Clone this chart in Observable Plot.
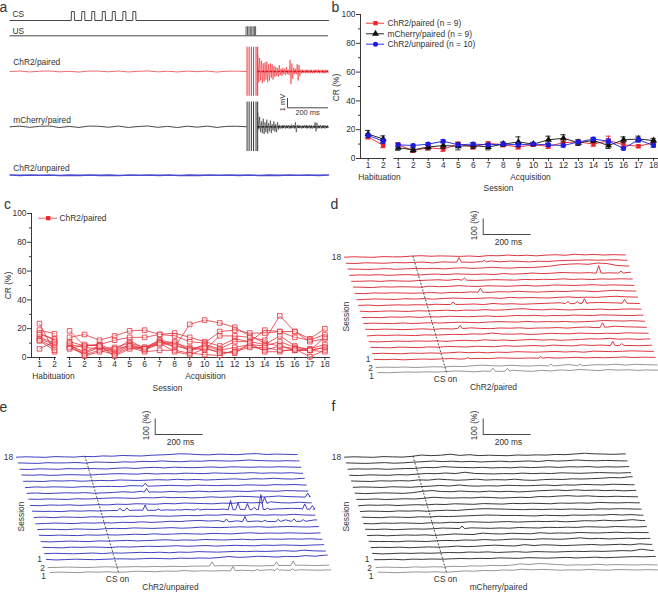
<!DOCTYPE html>
<html><head><meta charset="utf-8">
<style>html,body{margin:0;padding:0;background:#fff}#page{position:relative;width:658px;height:592px;overflow:hidden}#page svg{position:absolute;overflow:visible;background:transparent}</style>
<script src="https://cdn.jsdelivr.net/npm/d3@7"></script>
<script src="https://cdn.jsdelivr.net/npm/@observablehq/plot@0.6"></script>
</head><body><div id="page"></div>
<script>
// ---------- panel b ----------
const sessionLabels=[1,2,1,2,3,4,5,6,7,8,9,10,11,12,13,14,15,16,17,18];
const redMean=[15,9,9.5,5.5,7.5,6.5,10,8,10.5,9.5,8,9.5,8.5,11,11.5,10,12.5,9.5,8.5,11];
const redErr=[1.5,1.5,1.5,1.2,1.5,1.5,1.5,1.5,1,1.5,1.5,1,1.5,2,1.5,1.5,3,2,1,1.5];
const blackMean=[17,13.5,7.5,6,8,9,8.5,9,8,10,11.5,10,13,14,11,12.5,9,13,13.5,12.5];
const blackErr=[2.5,2.2,1.8,1.5,2,2,2.5,2,2,1.5,3.5,1.2,2.5,2.5,2,1.5,2,2,2,1.5];
const blueMean=[16,12,9.5,9,10,12,9.5,10,9.5,10,9.5,10,9.5,9,11.5,13.5,12,7,13,9];
const blueErr=[1.2,1.5,1,1,1,1,1,1,1,1,1.2,1,1.2,1,1.2,1.2,1.5,1,1.5,1.2];
const legendB=["ChR2/paired (n = 9)","mCherry/paired (n = 9)","ChR2/unpaired (n = 10)"];
// ---------- panel c ----------
const animalsC=[
[23.5,4,18.5,8,9,5,12,6,12,7,23,26,24,21,15,10,8,5,5,7],
[19,16.5,14,16,12,15,18.5,19,16,17,14,11,8,13,11,19,18,18,13,20],
[17,12,11,8,9,12,14,14,16,15,11,10,18,19,17,17,18,14,12,16],
[14,10,9,7,6,7,10,7,12,10,7,5,15,15,14,12,29,18,11,13],
[13,9,8,4,8,4,9,6,11,9,5,9,6,11,11,9,15,8,5,14],
[12,7,7,3,7,3,8,5,10,8,6,8,5,7,9,8,11,7,6,9],
[11.5,5,7,2,5,2,7,4,5,5,3,2,1.5,5,8,5,8,6,5,7],
[16,13,6,9,8,1,6,7,10,4,2,6,4,3,10,4,4,6,0.5,5],
[6,11,10,1,4,6,8,6,9,11,5,7,3,4,7,7,5,5,5,4]];
// ---------- panel a (ms, mV) ----------
const csRise=[301,352,401,453,502,554,603];
const usTimes=[1160,1167,1174,1181,1188,1195,1202,1207];
const artefactTimes=[1165,1175,1186,1197,1209,1217];
const redPre=[0,.05,-.05,.03,.06,-.04,.02,-.06,.05,.04,-.03,.05,-.05,.02,.06,-.04,.03,-.05,.04,-.02,.05,-.06,.03,.04,0];
const blackPre=[0,.08,-.06,.05,.09,-.08,.04,-.07,.08,.06,-.05,.08,-.07,.03,.09,-.06,.05,-.08,.07,-.04,.08,-.07,.05,.06,0];
const bluePre=[.02,-.02,.03,-.01,.02,-.03,.01,-.02,.03,-.02,.01,-.03,.02,-.01,.03,-.02,.02,-.03,.01,-.02,.03,-.01,.02,-.02,.03,-.03,.01,-.02,.02,-.01,.03,-.02,.02];
const redPost=[1.8,-1.2,1.5,-1,1.2,-1.3,.9,-1.1,1,-.9,1.1,-1.2,.8,-1,.9,-.7,.8,-.9,.6,-.6,.5,-.5,.4,-.6,.7,-.4,.3,-.5,.4,-.3,.3,-.4,.5,-.3,.2,-.4,1.3,-1.4,.9,-.8,.4,-.3,.3,-.3,.8,-1,.7,-.5,.2,-.2,.2,-.15,.15,-.2,.2,-.15,.2,-.2,.15,-.15,.2,-.2,.15,-.2,.2,-.15,.2,-.15,.2,-.2,.15,-.15,.2,-.2,.15,-.2,.2,-.15,.15,-.1];
const blackPost=[1.55,-.3,1.1,-.6,.6,-.7,.9,-.8,.5,-.6,.8,-.75,.4,-.5,.7,-.7,.3,-.4,.6,-.55,.3,-.6,.5,-.3,.2,-.2,.15,-.2,.2,-.15,.2,-.2,.15,-.15,.2,-.2,.15,-.2,.25,-.15,.2,-.2,.5,-.6,.2,-.15,.2,-.15,.15,-.2,.15,-.15,.2,-.15,.2,-.2,.15,-.15,.2,-.2,.15,-.2,.15,-.15,.5,-.5,.45,-.2,.15,-.15,.2,-.2,.15,-.15,.2,-.2,.15,-.15,.15,-.1];
// ---------- panels d, e, f: traces sampled every 40 ms, in steps of 2 %; top row = session 18, last two grey = habituation 2, 1 ----------
const tracesD=[
[0,1,0,-1,1,0,0,2,3,1,2,1,0,1,-1,2,1,3,1,2,0,2,3,1,4,2,3,1,2,1],
[0,-1,1,0,-1,1,0,1,2,-1,2,1,3,0,2,4,1,3,2,0,2,1,3,4,4,5,4,4,5,3],
[1,0,-1,0,1,-1,0,1,0,1,-1,1,2,0,1,3,1,0,2,1,3,5,9,11,12,10,14,12,6,4],
[0,1,0,1,-1,0,1,-1,1,2,0,2,1,0,1,-1,2,0,1,3,1,2,4,3,2,3,1,2,4,3],
[0,0,1,-1,1,0,-1,1,2,3,1,4,2,0,1,2,1,0,2,1,2,1,3,1,2,0,2,1,2,1],
[1,0,-1,1,0,1,0,-1,2,0,1,3,1,0,2,1,0,1,2,0,1,3,2,1,2,3,1,2,1,0],
[0,-1,1,0,1,0,-1,0,1,-1,1,0,2,1,0,2,1,3,1,0,1,2,1,3,2,0,2,4,2,1],
[-1,0,1,0,-1,1,0,1,-1,1,2,1,0,1,2,0,3,1,2,1,0,2,3,1,2,1,3,4,2,1],
[0,1,-1,0,1,0,1,0,2,1,3,1,2,0,3,1,2,0,1,2,3,4,2,5,3,4,3,2,1,0],
[1,-1,0,1,0,-1,1,0,1,2,0,2,1,3,1,2,4,5,2,1,3,1,0,2,1,2,0,1,2,1],
[0,0,-1,1,0,1,-1,1,0,2,1,0,1,2,0,1,3,2,3,1,2,1,3,2,1,3,2,1,0,1],
[0,1,0,-1,1,-1,0,1,0,1,2,1,0,2,3,2,1,3,1,2,1,2,0,1,2,4,3,2,3,1],
[1,0,1,0,-1,0,1,-1,1,0,1,3,1,0,2,1,2,0,1,1,2,0,2,3,1,2,5,3,2,1],
[-1,1,0,1,0,-1,1,0,1,2,1,3,2,5,2,1,2,0,1,3,2,1,3,2,1,2,1,3,2,1],
[0,-1,0,1,0,1,0,1,-1,1,2,0,3,1,2,0,2,3,1,2,0,1,2,4,3,5,2,3,1,2],
[1,0,-1,1,0,-1,1,0,2,1,0,2,1,0,3,1,2,3,1,4,2,1,4,2,3,2,3,1,0,1],
[0,1,0,-1,1,0,1,0,1,3,1,2,0,2,1,3,2,1,2,3,1,2,0,3,2,1,2,3,2,1],
[1,0,1,-1,0,1,0,1,2,0,1,2,1,3,2,1,2,0,3,1,2,3,1,2,1,2,3,1,2,1],
[0,1,0,1,-1,0,1,0,2,1,3,5,3,2,4,2,1,3,4,2,5,3,2,4,3,5,2,4,3,2],
[0,-1,0,1,0,1,0,1,3,2,0,2,3,1,4,2,0,3,1,4,2,5,3,1,4,2,3,1,2,1]];
const peaksD=[[1,470,30],[1,575,12],[3,1037,50],[3,1130,14],[4,470,16],[6,522,26],[8,394,18],[8,872,16],[8,911,14],[8,941,32],[8,1108,26],[12,394,22],[12,987,32],[15,1008,28],[15,1045,14],[17,389,9],[17,692,12],[18,728,14],[18,850,12],[19,479,22],[19,539,20]];
const tracesE=[
[0,1,0,-1,1,0,-1,1,0,2,1,3,2,1,3,4,5,7,6,4,3,5,4,3,5,6,3,4,3,2],
[1,0,-1,1,0,0,1,-1,2,1,0,2,1,3,2,4,2,1,3,2,4,3,2,3,5,3,2,1,2,1],
[0,-1,1,0,-1,1,0,1,0,-1,1,2,0,2,3,1,3,2,1,2,3,1,3,2,1,2,1,2,1,0],
[1,0,1,-1,0,1,0,-1,1,2,3,2,1,3,1,2,1,3,2,1,3,2,1,2,3,1,2,1,2,0],
[0,0,-1,1,0,1,-1,0,1,0,2,1,0,1,2,1,3,1,2,0,1,2,3,1,3,2,4,2,1,3],
[-1,1,0,1,0,-1,1,0,1,1,0,3,2,1,2,3,2,1,3,2,1,2,1,3,2,1,3,2,3,1],
[0,1,-1,0,1,0,1,-1,0,1,3,1,4,2,1,3,1,2,3,1,2,3,2,1,3,2,1,3,2,1],
[1,0,1,0,-1,1,0,1,2,3,2,1,3,2,4,2,3,1,2,4,2,3,5,4,2,3,5,3,2,4],
[0,-1,1,0,1,-1,0,1,0,2,1,3,2,1,3,2,4,3,2,1,3,2,5,3,4,6,3,2,4,2],
[1,0,0,-1,1,0,1,0,1,1,3,2,4,3,2,5,3,2,3,2,3,1,2,4,3,2,3,4,3,1],
[0,1,-1,1,0,-1,1,0,1,0,2,1,3,2,1,2,3,2,4,3,5,3,2,4,2,3,2,4,2,1],
[-1,0,1,0,-1,1,0,1,0,2,1,3,1,2,4,3,5,6,4,5,6,4,5,3,6,5,6,7,8,5],
[0,1,0,-1,1,0,-1,1,2,1,3,2,1,2,3,1,2,4,3,2,3,4,3,4,2,3,4,3,2,3],
[1,0,1,0,-1,1,0,1,0,1,2,1,3,1,2,3,2,1,3,2,1,3,4,2,3,2,3,2,1,2],
[0,-1,0,1,0,-1,1,0,1,2,0,1,2,3,1,2,1,3,2,1,2,3,1,2,3,2,3,2,3,1],
[1,0,-1,1,0,1,0,-1,1,0,1,2,1,2,3,1,2,3,1,2,3,2,1,3,2,3,2,1,2,3],
[0,1,0,-1,0,1,-1,1,0,1,2,1,2,0,2,1,3,2,1,2,3,2,3,2,3,4,2,5,3,2],
[1,-1,0,1,0,-1,0,1,1,0,1,2,1,0,2,1,2,1,3,6,3,4,6,5,3,5,4,7,5,8],
[0,0,1,0,-1,0,1,0,0,1,0,1,0,1,0,1,1,0,2,1,2,1,0,1,2,1,2,1,0,1],
[0,1,0,-1,1,0,1,-1,0,2,1,0,2,1,3,1,2,1,2,1,3,1,2,4,3,1,3,2,1,2]];
const peaksE=[[5,500,20],[6,498,26],[7,1162,26],[8,975,40],[9,365,15],[9,394,18],[9,470,35],[9,525,10],[9,605,5],[9,688,10],[9,826,60],[9,857,45],[9,896,40],[9,924,15],[9,952,95],[9,980,10],[9,1135,35],[9,1167,25],[11,794,20],[11,871,35],[11,954,10],[11,1010,15],[11,1075,18],[11,1114,12],[18,683,27],[18,951,25],[18,1021,30],[19,762,30],[19,864,10],[19,947,15],[19,1010,12]];
const tracesF=[
[0,1,0,-1,1,0,-1,1,5,3,4,7,3,5,2,3,2,1,3,2,3,2,4,3,5,7,5,4,3,4],
[1,0,-1,0,1,-1,0,2,3,5,3,4,2,3,1,2,3,1,2,3,1,4,2,3,5,3,2,3,2,1],
[0,1,0,1,-1,0,1,1,4,3,6,4,3,2,3,1,2,1,3,1,2,3,1,3,2,3,1,2,1,2],
[0,-1,1,0,-1,1,0,2,4,3,5,3,7,3,2,1,2,1,3,1,2,1,3,2,1,2,3,2,1,2],
[1,0,-1,1,0,1,0,3,2,5,3,1,2,4,1,2,1,3,0,-1,1,2,1,3,2,3,4,6,5,8],
[0,1,0,-1,1,0,-1,1,2,4,2,5,2,1,2,1,3,2,1,2,3,1,3,2,4,3,2,4,3,2],
[1,-1,0,1,0,-1,1,5,7,4,3,5,3,2,4,2,3,1,2,4,5,6,4,6,4,5,3,4,2,3],
[0,0,1,-1,0,1,0,2,5,3,2,3,2,4,3,1,2,3,2,5,4,6,7,5,6,4,3,4,3,2],
[-1,1,0,1,-1,0,1,0,2,1,3,2,1,3,2,1,3,2,3,2,1,3,2,3,2,4,3,2,3,2],
[0,1,0,-1,1,0,1,-1,1,2,1,3,5,6,5,4,3,2,3,2,3,2,3,2,1,3,2,3,2,1],
[1,0,-1,1,0,-1,1,0,2,1,2,3,4,5,4,3,3,2,1,3,2,1,3,2,3,2,4,2,3,1],
[0,-1,1,0,1,0,-1,1,0,2,1,3,2,1,2,3,1,2,3,2,3,1,2,4,3,5,3,4,6,3],
[1,0,1,-1,0,1,0,1,3,2,1,3,2,1,2,1,3,2,1,3,2,3,2,4,3,2,4,3,2,3],
[0,1,-1,0,1,0,1,-1,1,3,2,1,5,3,2,4,3,2,5,3,4,3,5,4,3,4,5,3,4,3],
[1,0,0,-1,1,0,-1,1,2,1,3,2,4,2,3,5,4,3,5,4,3,5,7,4,5,3,4,5,3,4],
[0,1,0,1,-1,0,1,0,1,3,1,2,4,5,3,2,6,3,5,4,2,3,4,5,3,4,5,3,6,4],
[1,-1,0,1,0,1,0,1,2,1,3,2,3,1,2,3,1,3,2,1,2,3,2,3,2,3,4,3,8,4],
[0,0,1,-1,1,0,1,0,1,2,1,2,1,3,2,1,3,2,1,2,3,1,2,3,1,2,3,4,3,4],
[0,1,0,-1,1,0,1,0,2,1,3,2,4,3,4,8,6,9,7,5,3,4,3,5,3,4,3,2,3,2],
[1,0,-1,0,1,0,1,-1,1,3,2,4,3,5,4,7,5,6,5,3,4,3,5,3,2,4,3,2,3,2]];
const peaksF=[[12,402,18]];

// ---------- layout ----------
const FONT="'Liberation Sans', Arial, sans-serif", INK="#333", AXIS="#222", FS=8.4;
const page=document.getElementById("page");
function mount(svg,left,top){svg.style.left=left+"px";svg.style.top=top+"px";page.appendChild(svg);}
const base=(w,h,marks,x,y)=>Plot.plot({width:w,height:h,marginLeft:0,marginRight:0,marginTop:0,marginBottom:0,x:{...x,axis:null},y:{...y,axis:null},style:{fontFamily:FONT,background:"transparent",overflow:"visible"},marks});
// text placed by pixel on a panel, converted back into its data units
function labels(list,ix,iy){
  const rows=list.map(([gx,gy,text,anchor="middle",rotate=0,size=FS])=>({x:ix(gx),y:iy(gy),text,anchor,rotate,size}));
  return ["start","middle"].map(a=>Plot.text(rows.filter(d=>d.anchor===a),{x:"x",y:"y",text:"text",textAnchor:a,rotate:"rotate",fontSize:"size",fill:INK,fontFamily:FONT}));
}

// ---------- a ----------
(function(){
  const pxPerMs=.2035,pxPerMv=9,W=330,H=190,x0=9.5;
  const ix=g=>(g-x0)/pxPerMs, iy=g=>(H-g)/pxPerMv, xEnd=ix(328);
  const rowCS=iy(20),rowUS=iy(35.3),rowR=iy(71),rowK=iy(126.3),rowB=iy(174.7);
  const cs=[{t:0,v:rowCS}];
  csRise.forEach(t=>{cs.push({t,v:rowCS},{t:t+1,v:rowCS+1},{t:t+15,v:rowCS+1},{t:t+16,v:rowCS});});
  cs.push({t:xEnd,v:rowCS});
  const pre=(a,row,end)=>a.map((v,i)=>({t:i*end/(a.length-1),v:row+v}));
  const post=(a,row)=>a.map((v,i)=>({t:1218+i*(xEnd-1218)/(a.length-1),v:row+v}));
  const L=(d,o)=>Plot.line(d,{x:"t",y:"v",...o});
  const marks=[
    L(cs,{stroke:"#333",strokeWidth:.9}),
    Plot.ruleY([rowUS],{x1:0,x2:xEnd,stroke:"#333",strokeWidth:.9}),
    Plot.ruleX(usTimes,{y1:rowUS,y2:rowUS+1,stroke:"#333",strokeWidth:.8}),
    L(pre(redPre,rowR,1162),{stroke:"#f06a70",strokeWidth:1}),
    Plot.ruleX(artefactTimes,{y1:rowR-2.75,y2:rowR+2.7,stroke:"#e8303a",strokeWidth:1}),
    L(post(redPost,rowR),{stroke:"#f0282f",strokeWidth:.6}),
    Plot.ruleY([rowR],{x1:1218,x2:xEnd,stroke:"#e0101c",strokeWidth:1.3,strokeDasharray:"3 1"}),
    L(pre(blackPre,rowK,1162),{stroke:"#333",strokeWidth:.9}),
    Plot.ruleX(artefactTimes,{y1:rowK-2.75,y2:rowK+2.75,stroke:"#333",strokeWidth:1}),
    L(post(blackPost,rowK),{stroke:"#333",strokeWidth:.6}),
    Plot.ruleY([rowK],{x1:1218,x2:xEnd,stroke:"#111",strokeWidth:1.3,strokeDasharray:"3 1"}),
    L(pre(bluePre,rowB,xEnd),{stroke:"#4a4ad0",strokeWidth:1.6}),
    Plot.ruleX([ix(287)],{y1:iy(98),y2:iy(107.3),stroke:"#333",strokeWidth:.9}),
    Plot.ruleY([iy(107.3)],{x1:ix(287),x2:xEnd,stroke:"#333",strokeWidth:.9}),
    ...labels([[3,7,"a","middle",0,14],[12,14,"CS","start"],[12,30.7,"US","start"],[12.7,62,"ChR2/paired","start"],[12.7,120,"mCherry/paired","start"],[12.7,168,"ChR2/unpaired","start"],[282,102,"1 mV","middle",-90,7.4],[307,112,"200 ms","middle",0,7.4]],ix,iy)
  ];
  mount(base(W,H,marks,{domain:[0,W/pxPerMs].map(v=>v-x0/pxPerMs),range:[0,W]},{domain:[0,H/pxPerMv],range:[H,0]}),0,0);
})();

// ---------- shared frame of b and c ----------
function sessionFrame(o){
  const {W,H,top,bottom,left,unit,x1px,ax1,ax2,panelLeft,panelTop,extra}=o;
  const xv=g=>(g-panelLeft-x1px)/unit+1, yv=g=>(H-bottom-(g-panelTop))/(H-top-bottom)*100;
  const xMin=(left-x1px)/unit+1, xMax=(W-x1px)/unit+1;
  const positions=sessionLabels.map((_,i)=>i+1);
  const marks=[
    Plot.ruleX([xMin],{y1:0,y2:100,stroke:AXIS,strokeWidth:.9}),
    Plot.ruleY([0],{x1:xMin,x2:ax1,stroke:AXIS,strokeWidth:.9}),
    Plot.ruleY([0],{x1:ax2,x2:xMax,stroke:AXIS,strokeWidth:.9}),
    Plot.axisY({anchor:"left",ticks:[0,20,40,60,80,100],tickSize:4,tickPadding:1,label:null,fontSize:FS,stroke:AXIS,fill:INK,strokeWidth:.9}),
    Plot.axisY({anchor:"left",ticks:[10,30,50,70,90],tickSize:2,tickFormat:()=>"",label:null,stroke:AXIS,strokeWidth:.9}),
    Plot.axisX({anchor:"bottom",ticks:positions,tickSize:3,tickPadding:1,tickFormat:d=>sessionLabels[d-1],label:null,fontSize:FS,stroke:AXIS,fill:INK,strokeWidth:.9}),
    ...extra(xv,yv),
  ];
  return Plot.plot({width:W,height:H,marginLeft:left,marginRight:0,marginTop:top,marginBottom:bottom,x:{domain:[xMin,xMax],axis:null},y:{domain:[0,100],axis:null},style:{fontFamily:FONT,background:"transparent",overflow:"visible"},marks});
}
const phase=i=>i<2?"h":"a";

// ---------- b ----------
(function(){
  const series=[["#ee2028",redMean,redErr,"square",2.4],["#111",blackMean,blackErr,"triangle",2.6],["#1b1be0",blueMean,blueErr,"circle",2.5]];
  const svg=sessionFrame({W:328,H:195,top:14,bottom:37,left:30,unit:15.02,x1px:37.7,ax1:2.22,ax2:2.71,panelLeft:330,panelTop:0,
    extra:(xv,yv)=>{
      const m=[];
      series.forEach(([c,mean,err,sym,r])=>{
        const rows=mean.map((v,i)=>({x:i+1,v,e:err[i],p:phase(i)}));
        m.push(
          Plot.ruleX(rows,{x:"x",y1:d=>d.v-d.e,y2:d=>d.v+d.e,stroke:c,strokeWidth:.9}),
          Plot.ruleY(rows,{y:d=>d.v+d.e,x1:d=>d.x-.17,x2:d=>d.x+.17,stroke:c,strokeWidth:.9}),
          Plot.ruleY(rows,{y:d=>d.v-d.e,x1:d=>d.x-.17,x2:d=>d.x+.17,stroke:c,strokeWidth:.9}),
          Plot.line(rows,{x:"x",y:"v",z:"p",stroke:c,strokeWidth:.9}),
          Plot.dot(rows,{x:"x",y:"v",symbol:()=>sym,r,fill:c,stroke:"none"}));
      });
      series.forEach(([c,,,sym,r],i)=>{
        const gy=[22.7,33.3,43.7][i], y=yv(gy);
        m.push(Plot.ruleY([y],{x1:xv(366),x2:xv(384),stroke:c,strokeWidth:.9}),
               Plot.dot([{x:xv(375),y}],{x:"x",y:"y",symbol:()=>sym,r,fill:c,stroke:"none"}));
      });
      m.push(...labels([[335,7,"b","middle",0,14],[387,22.7,legendB[0],"start"],[387,33.3,legendB[1],"start"],[387,43.7,legendB[2],"start"],
        [336,87,"CR (%)","middle",-90],[379,177,"Habituation"],[530,177,"Acquisition"],[498,188,"Session"]],xv,yv));
      return m;
    }});
  mount(svg,330,0);
})();

// ---------- c ----------
(function(){
  const c="#e5303a";
  const svg=sessionFrame({W:330,H:200,top:18,bottom:38,left:31,unit:15.02,x1px:39,ax1:2.13,ax2:2.85,panelLeft:0,panelTop:195,
    extra:(xv,yv)=>{
      const rows=animalsC.flatMap((a,k)=>a.map((v,i)=>({x:i+1,v,k:k+phase(i)})));
      const y=yv(217.7);
      return [
        Plot.line(rows,{x:"x",y:"v",z:"k",stroke:c,strokeWidth:.8}),
        Plot.dot(rows,{x:"x",y:"v",symbol:"square",r:2.6,fill:"#fff",fillOpacity:.35,stroke:c,strokeWidth:.8}),
        Plot.ruleY([y],{x1:xv(38),x2:xv(57),stroke:"#f08088",strokeWidth:1.2}),
        Plot.dot([{x:xv(47.7),y}],{x:"x",y:"y",symbol:"square",r:2.4,fill:"#ee2028"}),
        ...labels([[7,204,"c","middle",0,14],[59,217.7,"ChR2/paired","start"],[7.7,285,"CR (%)","middle",-90],[53,375.7,"Habituation"],[205,375.7,"Acquisition"],[167,388,"Session"]],xv,yv)
      ];
    }});
  mount(svg,0,195);
})();

// ---------- d, e, f ----------
function waterfall(o){
  const {traces,peaks,color,left,top,sessionX,title,letter,h}=o;
  const W=330,H=h,pxMs=.24,pxPct=.16,step=40,stepPct=2,tilt=.0107,tMax=1170;
  const startPx=r=>16+1.76*r+(r>=18?(r-18)*.1:0);
  const basePx=r=>r<18?61.7+6.03*r:(r===18?172:177);
  const yBase=r=>(H-basePx(r))/pxPct, xShift=r=>startPx(r)/pxMs;
  const rows=traces.flatMap((vals,r)=>{
    let pts=vals.map((v,k)=>({t:k*step,v:v*stepPct}));
    peaks.filter(p=>p[0]===r).forEach(([,ms,a])=>{
      pts=pts.filter(q=>Math.abs(q.t-ms)>=13);
      pts.push({t:ms-10,v:2},{t:ms,v:a},{t:ms+10,v:2});
    });
    pts.sort((a,b)=>a.t-b.t);
    pts=[...pts,{t:tMax,v:vals[vals.length-1]*stepPct}];
    return pts.map(q=>({r,gray:r>=18,x:q.t+xShift(r),y:yBase(r)+q.v+tilt*q.t}));
  });
  const ix=g=>(g-left)/pxMs, iy=g=>(H-(g-top))/pxPct;
  const csT=285;
  const marks=[
    Plot.line(rows.filter(d=>!d.gray),{x:"x",y:"y",z:"r",stroke:color,strokeWidth:.9}),
    Plot.line(rows.filter(d=>d.gray),{x:"x",y:"y",z:"r",stroke:"#8a8a8a",strokeWidth:.9}),
    Plot.link([{x1:csT+xShift(0),y1:yBase(0)+8,x2:csT+xShift(19),y2:yBase(19)+2}],{x1:"x1",y1:"y1",x2:"x2",y2:"y2",stroke:"#222",strokeWidth:.8,strokeDasharray:"2 1.5"}),
    Plot.ruleX([ix(left+154.7)],{y1:iy(top+23.5),y2:iy(top+39),stroke:"#333",strokeWidth:.9}),
    Plot.ruleY([iy(top+39)],{x1:ix(left+154.7),x2:ix(left+202.7),stroke:"#333",strokeWidth:.9}),
    ...labels([[left+o.letterX,top+o.letterY,letter,"middle",0,14],
      [left+146,top+30,"100 (%)"," middle".trim(),-90,FS],[left+180,top+47,"200 ms"],
      [left+8,top+62,"18"],[left+o.s1[0],top+164,"1"],[left+o.s1[1],top+173,"2"],[left+o.s1[2],top+180.5,"1"],
      [left+sessionX,top+121,"Session","middle",-90],[left+117,top+184,"CS on"],[left+o.titleX,top+191.5,title]],ix,iy)
  ];
  mount(base(W,H,marks,{domain:[0,W/pxMs],range:[0,W]},{domain:[0,H/pxPct],range:[H,0]}),left,top);
}
waterfall({traces:tracesD,peaks:peaksD,color:"#d8202c",left:328,top:195,h:200,sessionX:17.7,title:"ChR2/paired",titleX:165,letter:"d",letterX:6,letterY:9,s1:[39.7,42,43]});
waterfall({traces:tracesE,peaks:peaksE,color:"#2a2ab8",left:0,top:395,h:197,sessionX:20.7,title:"ChR2/unpaired",titleX:170,letter:"e",letterX:3,letterY:12,s1:[39,42,43]});
waterfall({traces:tracesF,peaks:peaksF,color:"#222",left:328,top:395,h:197,sessionX:17.7,title:"mCherry/paired",titleX:170,letter:"f",letterX:5,letterY:11,s1:[38.7,41,42.7]});
</script></body></html>
